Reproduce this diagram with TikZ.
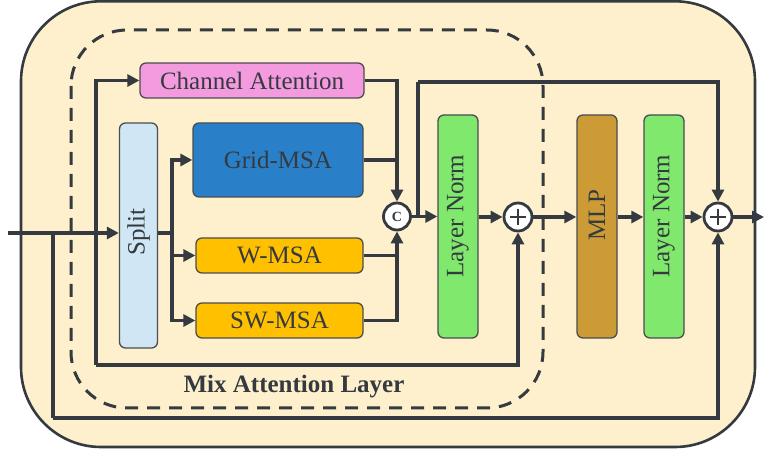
\documentclass[tikz,border=0pt]{standalone}
\usepackage{fontspec}
\setmainfont{Liberation Serif}
\usetikzlibrary{arrows.meta}
\definecolor{bgc}{HTML}{FEF0CD}
\definecolor{lnc}{HTML}{343A3F}
\definecolor{pinkc}{HTML}{F49BE0}
\definecolor{splitc}{HTML}{D1E6F5}
\definecolor{gridc}{HTML}{2A80C8}
\definecolor{orangec}{HTML}{FFC000}
\definecolor{greenc}{HTML}{80E86C}
\definecolor{mlpc}{HTML}{CC9B35}
\tikzset{
  blk/.style={draw=lnc!90, line width=1.3pt, rounded corners=6pt, inner sep=0pt, text=lnc, font=\fontsize{25}{28}\selectfont},
  txt/.style={text=lnc, font=\fontsize{25}{28}\selectfont, inner sep=0pt},
  opc/.style={circle, draw=lnc, line width=2.8pt, fill=white, minimum size=28pt, inner sep=0pt},
  conn/.style={draw=lnc, line width=3.2pt},
  arr/.style={conn, -{Triangle[length=12pt,width=12pt]}},
}
\begin{document}
\begin{tikzpicture}[x=1pt,y=-1pt]
\useasboundingbox (0,0) rectangle (764,454);
% outer block
\draw[fill=bgc, draw=lnc, line width=2.6pt, rounded corners=80pt] (21,1.3) rectangle (755,447);
% dashed mix attention region
\draw[draw=lnc, line width=3pt, dash pattern=on 13pt off 9pt, rounded corners=56pt] (71,30) rectangle (543,408);
\node[font=\bfseries\fontsize{25}{28}\selectfont, text=lnc, inner sep=0pt] (mal) at (294,387) {Mix Attention Layer};
% blocks
\node[blk, fill=pinkc, minimum width=224pt, minimum height=35pt] (ca) at (252,80.5) {Channel Attention};
\node[blk, fill=splitc, minimum width=38pt, minimum height=225pt] (split) at (138.5,235.5) {};
\node[txt, rotate=90] (splitt) at (138.5,232) {Split};
\node[blk, fill=gridc, minimum width=170pt, minimum height=74pt] (grid) at (278,160) {Grid-MSA};
\node[blk, fill=orangec, minimum width=167pt, minimum height=35pt] (wmsa) at (279.5,255.5) {W-MSA};
\node[blk, fill=orangec, minimum width=167pt, minimum height=35pt] (swmsa) at (279.5,320.5) {SW-MSA};
\node[opc, minimum size=27pt, font=\bfseries\fontsize{14}{14}\selectfont, text=lnc] (cat) at (397,216.5) {C};
\node[blk, fill=greenc, minimum width=40pt, minimum height=223pt] (ln1) at (458,226.5) {};
\node[txt, rotate=90] (ln1t) at (458,216) {Layer Norm};
\node[opc] (p1) at (518,217) {};
\node[blk, fill=mlpc, minimum width=40pt, minimum height=223pt] (mlp) at (597,226.5) {};
\node[txt, rotate=90] (mlpt) at (597,215) {MLP};
\node[blk, fill=greenc, minimum width=40pt, minimum height=223pt] (ln2) at (664,226.5) {};
\node[txt, rotate=90] (ln2t) at (664,216) {Layer Norm};
\node[opc] (p2) at (718,217) {};
\foreach \p in {p1,p2}{
  \draw[lnc, line width=1.6pt] ([xshift=-8pt]\p.center) -- ([xshift=8pt]\p.center);
  \draw[lnc, line width=1.6pt] ([yshift=-8pt]\p.center) -- ([yshift=8pt]\p.center);
}
% coordinates
\coordinate (in) at (8,233);
\coordinate (b1) at (53,233);
\coordinate (b2) at (96,233);
\coordinate (bot2) at (53,418);
\coordinate (bot1) at (96,365);
\coordinate (sp) at (172,233);
\coordinate (s2) at (418,216.5);
\coordinate (s2t) at (418,82);
\coordinate (out) at (764,217);
% connectors
\draw[arr] (in) -- (in -| split.west);
\draw[conn] (b1) -- (bot2);
\draw[arr] (bot2) -| (p2.south);
\draw[arr] (b2) |- (ca.west);
\draw[conn] (b2) -- (bot1);
\draw[arr] (bot1) -| (p1.south);
\draw[conn] (sp -| split.east) -- (sp);
\draw[arr] (sp) |- (grid.west);
\draw[arr] (sp) |- (wmsa.west);
\draw[arr] (sp) |- (swmsa.west);
\draw[arr] (ca.east) -| (cat.north);
\draw[conn] (grid.east) -- (grid.east -| cat);
\draw[conn] (wmsa.east) -- (wmsa.east -| cat);
\draw[arr] (swmsa.east) -| (cat.south);
\draw[arr] (cat.east) -- (cat.east -| ln1.west);
\draw[conn] (s2) -- (s2t);
\draw[arr] (s2t) -| (p2.north);
\draw[arr] (p1.west -| ln1.east) -- (p1.west);
\draw[arr] (p1.east) -- (p1.east -| mlp.west);
\draw[arr] (p1 -| mlp.east) -- (p1 -| ln2.west);
\draw[arr] (p2.west -| ln2.east) -- (p2.west);
\draw[arr] (p2.east) -- (out);
\end{tikzpicture}
\end{document}
